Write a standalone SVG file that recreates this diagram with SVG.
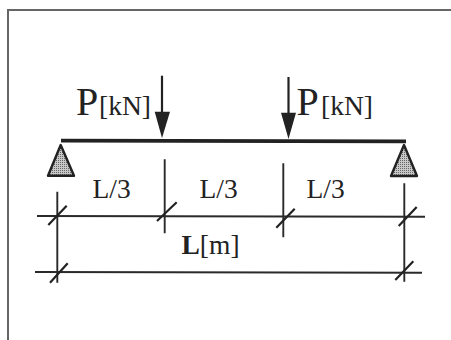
<svg xmlns="http://www.w3.org/2000/svg" width="451" height="340" viewBox="0 0 451 340">
<style>
text{font-family:"Liberation Serif","Times New Roman",serif;fill:#222}
.big{font-size:40px}.mid{font-size:27.5px}.len{font-size:27.5px}
.dim{stroke:#2a2a2a;stroke-width:1.9;fill:none}
.slash{stroke:#222;stroke-width:2.2;fill:none}
.frame{stroke:#666;stroke-width:2;fill:none}
.shaft{stroke:#222;stroke-width:2.2;fill:none}
.head{fill:#222}
.support{fill:url(#dots);stroke:#222;stroke-width:2.4;stroke-linejoin:round}
</style>
<defs>
<pattern id="dots" width="2" height="2" patternUnits="userSpaceOnUse">
<rect width="2" height="2" fill="#c8c8c8"/>
<rect width="1" height="1" fill="#666"/>
</pattern>
</defs>
<rect width="451" height="340" fill="#fff"/>
<path class="frame" d="M451 10H8V340"/>
<g id="connectors">
<path class="dim" d="M37 216L425 216.7M35 272L422 272.7"/>
<path class="dim" d="M57.3 191.7V282.7M164.7 159.3V233.3M283.3 163.3V237.3M404.3 183.3V281.7"/>
<path class="slash" d="M48.3 225L66.7 205.7M50 282.7L67.7 263.3M157 221L176.7 202.3M276.3 227.7L294.7 208.7M398.7 226L416.7 207M395.3 280L413.3 261.3"/>
</g>
<g id="beam"><path d="M61 140.7L406 141.3" stroke="#222" stroke-width="3.8" fill="none"/></g>
<g id="load-left">
<path class="shaft" d="M162 75.7V115"/>
<path class="head" d="M154.7 111.7H170L162 138Z"/>
<text class="big" x="76" y="114.5">P</text>
<text class="mid" x="99" y="115">[kN]</text>
</g>
<g id="load-right">
<path class="shaft" d="M288.5 77V115"/>
<path class="head" d="M281 112.7H296L288.5 139Z"/>
<text class="big" x="296.5" y="115">P</text>
<text class="mid" x="321" y="115">[kN]</text>
</g>
<g id="support-left"><path class="support" d="M60.7 145L74 175.8H48Z"/></g>
<g id="support-right"><path class="support" d="M404 145L417 176H391Z"/></g>
<g id="labels">
<text class="len" x="92.5" y="198">L/3</text>
<text class="len" x="199.5" y="198">L/3</text>
<text class="len" x="306.5" y="198">L/3</text>
<text class="len" x="181.5" y="254"><tspan font-weight="bold">L</tspan>[m]</text>
</g>
</svg>
